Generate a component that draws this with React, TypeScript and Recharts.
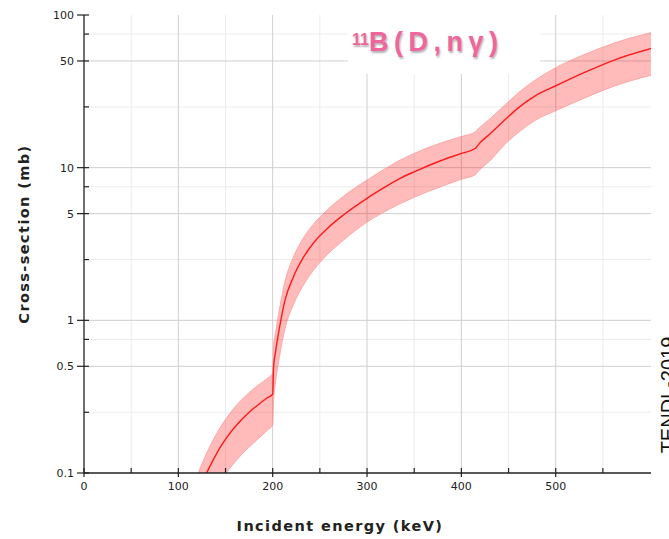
import React from 'react';
import {
  ComposedChart, Area, Line, XAxis, YAxis, CartesianGrid, ReferenceArea,
} from 'recharts';

const energy = [115, 123, 130, 137, 144, 151, 162, 172, 183, 194, 200, 201, 203, 207, 213, 222, 233, 243, 258, 275, 300, 315, 335, 350, 378, 400, 415, 416.5, 431, 448, 462, 477, 502, 530, 562, 602];
const xsCentral = [0.059, 0.079, 0.1, 0.122, 0.146, 0.17, 0.207, 0.24, 0.275, 0.31, 0.328, 0.5, 0.62, 0.88, 1.35, 1.93, 2.61, 3.2, 4.0, 4.9, 6.3, 7.2, 8.5, 9.4, 11.1, 12.4, 13.4, 13.8, 16.8, 21.1, 25.1, 29.2, 34.8, 41.9, 50.7, 60.5];
const xsUpper = [0.08, 0.107, 0.135, 0.165, 0.197, 0.229, 0.28, 0.323, 0.37, 0.415, 0.45, 0.68, 0.83, 1.17, 1.8, 2.6, 3.5, 4.25, 5.3, 6.5, 8.3, 9.5, 11.2, 12.4, 14.5, 16.0, 17.2, 17.6, 21.1, 26.4, 31.5, 37, 45.9, 55, 65.5, 77];
const xsLower = [0.033, 0.045, 0.057, 0.07, 0.085, 0.1, 0.122, 0.142, 0.164, 0.19, 0.206, 0.3, 0.39, 0.57, 0.88, 1.27, 1.72, 2.12, 2.7, 3.35, 4.4, 5.0, 5.8, 6.4, 7.5, 8.4, 9.0, 9.25, 11.2, 14.6, 17.3, 20.2, 23.9, 28.5, 34.2, 40.5];

const yTicks = [0.1, 0.25, 0.5, 0.75, 1, 2.5, 5, 7.5, 10, 25, 50, 75, 100];
const yMajor = [0.1, 0.5, 1, 5, 10, 50, 100];
const yGridMajor = [0.5, 1, 5, 10, 50];
const yGridMinor = [0.25, 0.75, 2.5, 7.5, 25, 75];
const xTicks = [0, 50, 100, 150, 200, 250, 300, 350, 400, 450, 500, 550];
const xMajor = [0, 100, 200, 300, 400, 500];
const xGridMajor = [100, 200, 300, 400, 500];
const xGridMinor = [50, 150, 250, 350, 450, 550];

const data = energy.map((e, i) => ({
  e,
  xs: xsCentral[i],
  band: [xsLower[i], xsUpper[i]],
}));

const tickFont = '"DejaVu Sans", sans-serif';

const LeftTick = (props: any) => {
  const { x, y, payload } = props;
  const major = yMajor.includes(payload.value);
  return (
    <g>
      <line x1={major ? x - 7 : x} x2={x + 5} y1={y} y2={y} stroke="#222" strokeWidth={1.2} />
      {major && (
        <text x={x - 10} y={y + 4} textAnchor="end" fontSize={11} fontFamily={tickFont} fill="#222">
          {String(payload.value)}
        </text>
      )}
    </g>
  );
};

const BottomTick = (props: any) => {
  const { x, y, payload } = props;
  const major = xMajor.includes(payload.value);
  return (
    <g>
      <line x1={x} x2={x} y1={y - 5} y2={major ? y + 4 : y} stroke="#222" strokeWidth={1.2} />
      {major && (
        <text x={x} y={y + 17} textAnchor="middle" fontSize={11} fontFamily={tickFont} fill="#222">
          {String(payload.value)}
        </text>
      )}
    </g>
  );
};

export default function App() {
  return (
    <div style={{ position: 'absolute', left: 0, top: 0, width: 669, height: 539, overflow: 'hidden', background: '#fff' }}>
      <ComposedChart
        width={669}
        height={539}
        data={data}
        margin={{ top: 15, right: 18, left: 0, bottom: 36 }}
      >
        <CartesianGrid horizontal={false} verticalValues={xGridMinor} stroke="#ececec" strokeWidth={1} />
        <CartesianGrid vertical={false} horizontalValues={yGridMinor} stroke="#ececec" strokeWidth={1} />
        <CartesianGrid horizontal={false} verticalValues={xGridMajor} stroke="#cfcfcf" strokeWidth={1} />
        <CartesianGrid vertical={false} horizontalValues={yGridMajor} stroke="#cfcfcf" strokeWidth={1} />
        <XAxis
          dataKey="e"
          type="number"
          domain={[0, 601]}
          ticks={xTicks}
          interval={0}
          allowDataOverflow
          height={30}
          tickSize={0}
          tickMargin={0}
          tickLine={false}
          axisLine={{ stroke: '#222', strokeWidth: 1.3 }}
          tick={<BottomTick />}
        />
        <YAxis
          type="number"
          scale="log"
          domain={[0.1, 100]}
          ticks={yTicks}
          interval={0}
          allowDataOverflow
          width={84}
          tickSize={0}
          tickMargin={0}
          tickLine={false}
          axisLine={{ stroke: '#222', strokeWidth: 1.3 }}
          tick={<LeftTick />}
        />
        <YAxis
          yAxisId="r"
          orientation="right"
          mirror
          type="number"
          scale="log"
          domain={[0.1, 100]}
          ticks={yTicks}
          interval={0}
          allowDataOverflow
          width={0}
          tickSize={6}
          tick={false}
          tickLine={{ stroke: '#222', strokeWidth: 1.2 }}
          axisLine={false}
        />
        <Area
          dataKey="band"
          type="monotone"
          stroke="#ff9a9a"
          strokeWidth={0.8}
          fill="#ff0000"
          fillOpacity={0.27}
          isAnimationActive={false}
          dot={false}
          activeDot={false}
        />
        <Line
          dataKey="xs"
          type="monotone"
          stroke="#ff1a1a"
          strokeWidth={1.4}
          dot={false}
          activeDot={false}
          isAnimationActive={false}
        />
        <ReferenceArea fill="none" stroke="#222" strokeWidth={1.3} fillOpacity={0} ifOverflow="visible" />
      </ComposedChart>

      <div style={{ position: 'absolute', left: 348, top: 14, width: 192, height: 60, background: '#fff' }} />
      <div
        style={{
          position: 'absolute', left: 352, top: 26, fontFamily: '"Liberation Sans", Arial, sans-serif',
          fontWeight: 700, color: '#f0659b', fontSize: 27, letterSpacing: 5.5, whiteSpace: 'nowrap',
          textShadow: '1px 2px 2px rgba(0,0,0,0.3)', lineHeight: '32px',
        }}
      >
        <span style={{ fontSize: 16, verticalAlign: 'top', position: 'relative', top: -2, letterSpacing: 0 }}>11</span>B(D,nγ)
      </div>

      <div
        style={{
          position: 'absolute', left: 340, top: 518, transform: 'translateX(-50%)',
          fontFamily: '"DejaVu Sans", sans-serif', fontWeight: 700, fontSize: 14.5, color: '#222',
          whiteSpace: 'nowrap', letterSpacing: 1.4,
        }}
      >
        Incident energy (keV)
      </div>
      <div
        style={{
          position: 'absolute', left: 24, top: 234, transform: 'translate(-50%, -50%) rotate(-90deg)',
          fontFamily: '"DejaVu Sans", sans-serif', fontWeight: 700, fontSize: 14.5, color: '#222',
          whiteSpace: 'nowrap', letterSpacing: 1.4,
        }}
      >
        Cross-section (mb)
      </div>
      <div
        style={{
          position: 'absolute', left: 668, top: 395, transform: 'translate(-50%, -50%) rotate(-90deg)',
          fontFamily: '"Liberation Sans", Arial, sans-serif', fontSize: 20, color: '#111',
          whiteSpace: 'nowrap',
        }}
      >
        TENDL-2019
      </div>
    </div>
  );
}
